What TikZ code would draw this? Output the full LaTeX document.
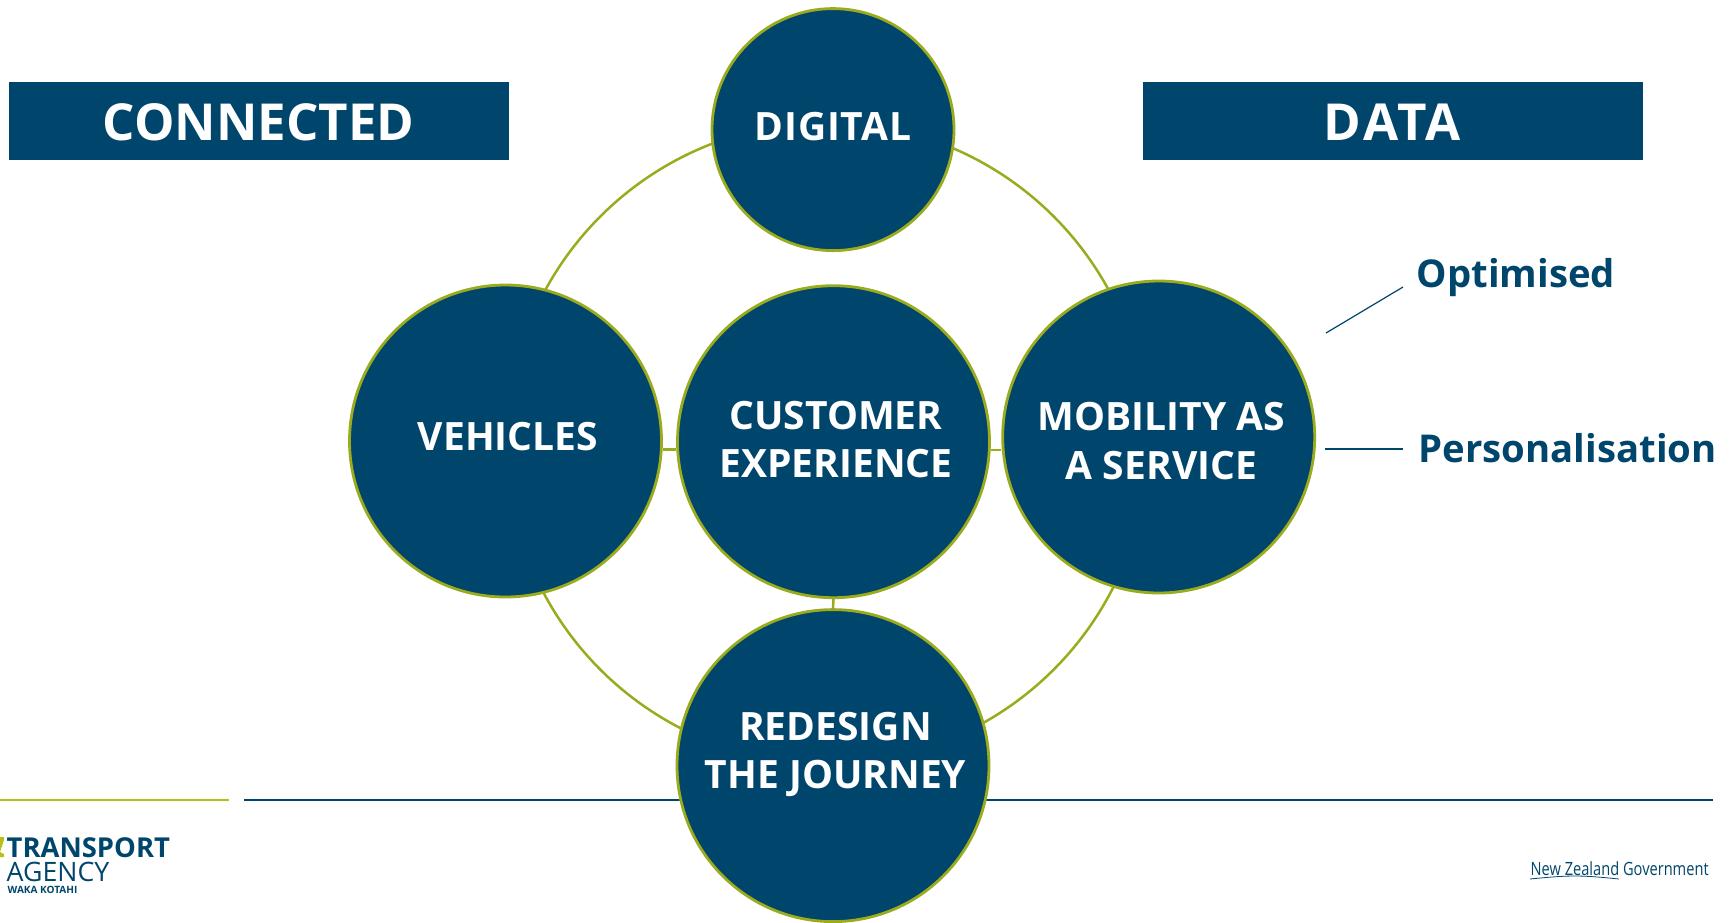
\documentclass[tikz,border=0pt]{standalone}
\usepackage{fontspec}
\setmainfont{Open Sans}
\newfontfamily\nzfont[FakeStretch=0.8]{Open Sans}
\usepackage{xcolor}
\definecolor{navyblue}{HTML}{00456B}
\definecolor{ringgreen}{HTML}{9AAB1E}
\definecolor{rulegreen}{HTML}{B5C01A}
\tikzset{
  bubble/.style={circle, draw=ringgreen, line width=0.28mm, fill=navyblue, inner sep=0pt, minimum size=31.2mm},
  bubbletext/.style={text=white, inner sep=0pt, align=center, font=\bfseries\fontsize{11.1}{13.8}\selectfont},
  banner/.style={fill=navyblue, text=white, inner sep=0pt, minimum width=50mm, minimum height=7.8mm,
    text height=3.9mm, text depth=0pt, font=\bfseries\fontsize{14.5}{16}\selectfont},
  sidelabel/.style={text=navyblue, inner sep=0pt, anchor=base west, font=\bfseries\fontsize{10.9}{12}\selectfont},
  logotext/.style={text=navyblue, inner sep=0pt, anchor=base west},
  ringline/.style={draw=ringgreen, line width=0.25mm},
  navyline/.style={draw=navyblue, line width=0.2mm},
}
\begin{document}
\begin{tikzpicture}[x=0.1mm, y=-0.1mm]
    \useasboundingbox (0,0) rectangle (1730,922);

    % rules along the foot
    \coordinate (greenL) at (0,800);
    \coordinate (greenR) at (229,800);
    \coordinate (navyL) at (244,800);
    \coordinate (navyR) at (1713,800);
    \draw[draw=rulegreen, line width=0.2mm] (greenL) -- (greenR);
    \draw[navyline] (navyL) -- (navyR);

    % the ring behind the circles
    \node[circle, ringline, inner sep=0pt, minimum size=64.1mm] (ring) at (827,443) {};

    \node[bubble, minimum size=24.2mm] (digital) at (833,129.6) {};
    \node[bubble] (vehicles) at (505.5,441) {};
    \node[bubble] (customer) at (833.5,441.7) {};
    \node[bubble] (mobility) at (1158.7,437) {};
    \node[bubble] (redesign) at (833,765.6) {};

    \node[bubbletext] (digitaltext) at (833,127) {\addfontfeature{LetterSpace=2}DIGITAL};
    \node[bubbletext] (vehiclestext) at (508,437) {VEHICLES};
    \node[bubbletext] (customertext) at (836,439.5) {CUSTOMER\\EXPERIENCE};
    \node[bubbletext] (mobilitytext) at (1161.5,441) {MOBILITY AS\\A SERVICE};
    \node[bubbletext] (redesigntext) at (835.5,754.5) {REDESIGN\\THE JOURNEY};

    \draw[ringline] (vehicles.-3.2) -- (vehicles.-3.2 -| customer.west);
    \draw[ringline] (customer.-3) -- (customer.-3 -| mobility.west);
    \draw[ringline] (customer.south) -- (redesign.north);

    \node[banner] (connected) at (258.7,121) {CONNECTED};
    \node[banner] (data) at (1392.5,121) {\addfontfeature{LetterSpace=5}DATA};

    \node[sidelabel] (optimised) at (1416,287) {Optimised};
    \node[sidelabel] (personal) at (1418,462.5) {Personalisation};
    \coordinate (optA) at (1326,333);
    \coordinate (optB) at (1403,287);
    \coordinate (perA) at (1325,449);
    \coordinate (perB) at (1403,449);
    \draw[navyline, line width=0.12mm] (optA) -- (optB);
    \draw[navyline] (perA) -- (perB);

    % logos
    \fill[rulegreen] (0,837) -- (4,837) -- (4,840) -- (0,852) -- (4,854) -- (4,857) -- (0,857) -- cycle;
    \node[logotext, font=\bfseries\fontsize{7.8}{9}\selectfont] (transport) at (6,857) {TRANSPORT};
    \node[logotext, font=\fontsize{7.6}{9}\selectfont] (agency) at (6,881.7) {AGENCY};
    \node[logotext, font=\bfseries\fontsize{2.86}{4}\selectfont] (waka) at (7,893) {WAKA KOTAHI};
    \node[logotext, font=\nzfont\fontsize{5.2}{6}\selectfont] (nzgov) at (1530,875) {New Zealand Government};
    \draw[navyblue, line width=0.08mm] (1530,879) .. controls (1570,875) and (1580,875) .. (1619,879);
\end{tikzpicture}
\end{document}
